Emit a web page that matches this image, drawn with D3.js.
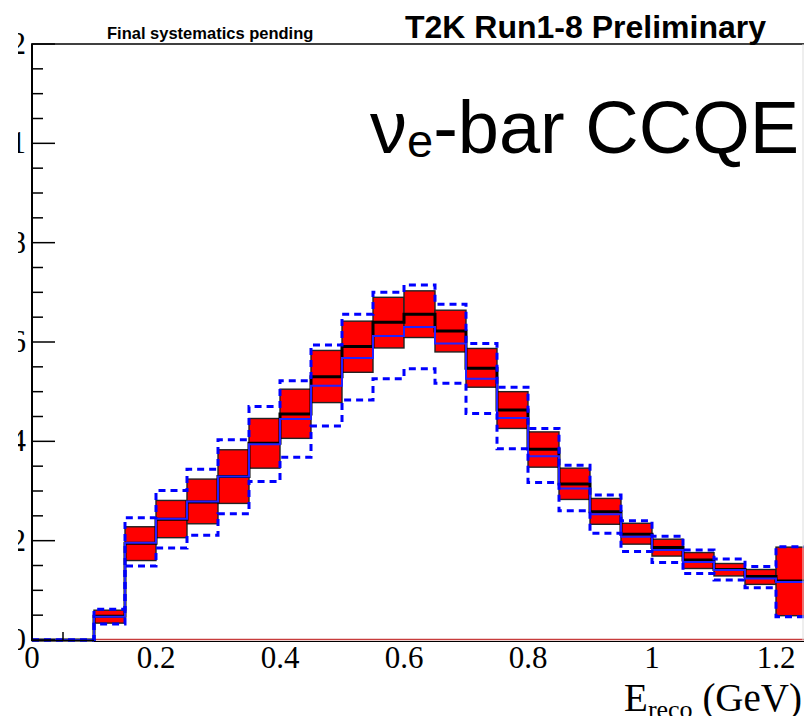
<!DOCTYPE html>
<html>
<head>
<meta charset="utf-8">
<script src="https://cdn.jsdelivr.net/npm/d3@7"></script>
<style>
  body { margin: 0; background: #fff; }
  svg { display: block; }
</style>
</head>
<body>
<svg id="chart" width="804" height="716"></svg>
<script>
// bin edges in GeV (first bin 0-0.1 is empty)
var edges = [0, 0.1, 0.15, 0.2, 0.25, 0.3, 0.35, 0.4, 0.45, 0.5, 0.55, 0.6, 0.65,
             0.7, 0.75, 0.8, 0.85, 0.9, 0.95, 1.0, 1.05, 1.1, 1.15, 1.2, 1.25];

// nominal prediction (black)
var nominal = [0, 0.0048, 0.0195, 0.0243, 0.0278, 0.0329, 0.0396, 0.0455, 0.0530, 0.0591,
               0.0640, 0.0656, 0.0622, 0.0547, 0.0463, 0.0384, 0.0314, 0.0258, 0.0213,
               0.0186, 0.0161, 0.0142, 0.0128, 0.0119];
// systematic band (red boxes)
var bandLow = [0, 0.0034, 0.0160, 0.0206, 0.0234, 0.0275, 0.0346, 0.0406, 0.0478, 0.0539,
               0.0588, 0.0609, 0.0580, 0.0509, 0.0426, 0.0348, 0.0283, 0.0233, 0.0193,
               0.0169, 0.0144, 0.0129, 0.0112, 0.0049];
var bandHigh = [0, 0.0060, 0.0228, 0.0281, 0.0324, 0.0383, 0.0446, 0.0505, 0.0583, 0.0642,
                0.0690, 0.0703, 0.0664, 0.0587, 0.0500, 0.0419, 0.0346, 0.0285, 0.0235,
                0.0203, 0.0176, 0.0154, 0.0142, 0.0187];
// alternative prediction (solid blue)
var altPred = [0, 0.0047, 0.0196, 0.0244, 0.0279, 0.0329, 0.0394, 0.0445, 0.0512, 0.0568,
               0.0612, 0.0630, 0.0597, 0.0526, 0.0447, 0.0370, 0.0305, 0.0253, 0.0208,
               0.0181, 0.0157, 0.0141, 0.0124, 0.0117];
// alternative band (dashed blue)
var altHigh = [0, 0.0062, 0.0246, 0.0301, 0.0344, 0.0403, 0.0470, 0.0522, 0.0594, 0.0656,
               0.0700, 0.0715, 0.0676, 0.0597, 0.0509, 0.0426, 0.0352, 0.0292, 0.0240,
               0.0209, 0.0181, 0.0163, 0.0148, 0.0188];
var altLow = [0, 0.0032, 0.0149, 0.0185, 0.0211, 0.0254, 0.0319, 0.0368, 0.0431, 0.0483,
              0.0526, 0.0546, 0.0517, 0.0456, 0.0385, 0.0317, 0.0260, 0.0215, 0.0178,
              0.0156, 0.0134, 0.0121, 0.0105, 0.0047];

var xTickVals = [0, 0.2, 0.4, 0.6, 0.8, 1.0, 1.2];
var xTickLabels = ["0", "0.2", "0.4", "0.6", "0.8", "1", "1.2"];
var xInnerTicks = [0.05];
var yTickVals = [0, 0.02, 0.04, 0.06, 0.08, 0.1, 0.12];
var yTickLabels = ["0", "0.02", "0.04", "0.06", "0.08", "0.1", "0.12"];
var yMinorTicks = d3.range(0, 0.1201, 0.005);

var svg = d3.select("#chart");
var x = d3.scaleLinear().domain([0, 1.25]).range([32, 807]);
var y = d3.scaleLinear().domain([0, 0.12]).range([640, 44]);

var sans = "'Liberation Sans', Arial, Helvetica, sans-serif";
var serif = "'Liberation Serif', 'Times New Roman', serif";

// red systematic boxes (skip the empty first bin)
var bins = d3.range(1, edges.length - 1);
svg.append("g").selectAll("rect")
    .data(bins)
  .enter().append("rect")
    .attr("x", function(i) { return x(edges[i]); })
    .attr("y", function(i) { return y(bandHigh[i]); })
    .attr("width", function(i) { return x(edges[i + 1]) - x(edges[i]); })
    .attr("height", function(i) { return y(bandLow[i]) - y(bandHigh[i]); })
    .attr("fill", "#ff0000")
    .attr("stroke", "#222")
    .attr("stroke-width", 1.4);

function stepPath(vals) {
  var pts = vals.map(function(v, i) { return [x(edges[i]), y(v)]; });
  pts.push([x(edges[vals.length]), y(vals[vals.length - 1])]);
  return d3.line().curve(d3.curveStepAfter)(pts);
}

// red zero line
svg.append("line")
    .attr("x1", x(0.1)).attr("x2", 804)
    .attr("y1", y(0) - 0.5).attr("y2", y(0) - 0.5)
    .attr("stroke", "#c83c3c").attr("stroke-width", 1.5);

svg.append("path").attr("d", stepPath(nominal))
    .attr("fill", "none").attr("stroke", "#000").attr("stroke-width", 3);
svg.append("path").attr("d", stepPath(altPred))
    .attr("fill", "none").attr("stroke", "#2222ff").attr("stroke-width", 2);
[altHigh, altLow].forEach(function(s) {
  svg.append("path").attr("d", stepPath(s))
      .attr("fill", "none").attr("stroke", "#0000ff")
      .attr("stroke-width", 3).attr("stroke-dasharray", "7,5");
});

// frame
svg.append("line").attr("x1", 32).attr("x2", 32).attr("y1", 44).attr("y2", 641)
    .attr("stroke", "#000").attr("stroke-width", 2);
svg.append("line").attr("x1", 31).attr("x2", 804).attr("y1", 44).attr("y2", 44)
    .attr("stroke", "#000").attr("stroke-width", 1.5);
svg.append("line").attr("x1", 31).attr("x2", x(0.1)).attr("y1", 640.5).attr("y2", 640.5)
    .attr("stroke", "#000").attr("stroke-width", 1.5);
svg.append("line").attr("x1", x(0.1)).attr("x2", 804).attr("y1", 641.5).attr("y2", 641.5)
    .attr("stroke", "#000").attr("stroke-width", 1);
svg.append("line").attr("x1", 803).attr("x2", 803).attr("y1", 44).attr("y2", 640)
    .attr("stroke", "#ddd").attr("stroke-width", 1);

// y ticks
svg.append("g").selectAll("line")
    .data(yMinorTicks)
  .enter().append("line")
    .attr("x1", 32)
    .attr("x2", function(d, i) { return i % 4 === 0 ? 55 : 43; })
    .attr("y1", function(d) { return y(d); })
    .attr("y2", function(d) { return y(d); })
    .attr("stroke", "#000").attr("stroke-width", 1.5);

// x inner ticks
svg.append("g").selectAll("line")
    .data(xInnerTicks)
  .enter().append("line")
    .attr("x1", function(d) { return x(d); })
    .attr("x2", function(d) { return x(d); })
    .attr("y1", 640).attr("y2", 632)
    .attr("stroke", "#000").attr("stroke-width", 1.5);

// y labels (cut off on the left)
svg.append("clipPath").attr("id", "ylab")
  .append("rect").attr("x", 18).attr("y", 0).attr("width", 14).attr("height", 716);
svg.append("g").attr("clip-path", "url(#ylab)").selectAll("text")
    .data(yTickVals)
  .enter().append("text")
    .attr("x", 26)
    .attr("y", function(d) { return y(d) + 10; })
    .attr("text-anchor", "end")
    .attr("font-family", serif).attr("font-size", 31)
    .text(function(d, i) { return yTickLabels[i]; });

// x labels
svg.append("g").selectAll("text")
    .data(xTickVals)
  .enter().append("text")
    .attr("x", function(d) { return x(d); })
    .attr("y", 668)
    .attr("text-anchor", "middle")
    .attr("font-family", serif).attr("font-size", 31)
    .text(function(d, i) { return xTickLabels[i]; });

// x title
var xt = svg.append("text")
    .attr("x", 802).attr("y", 711)
    .attr("text-anchor", "end")
    .attr("font-family", serif).attr("font-size", 39);
xt.append("tspan").text("E");
xt.append("tspan").attr("font-size", 26).attr("dy", 7).text("reco");
xt.append("tspan").attr("dy", -7).text(" (GeV)");

// header texts
svg.append("text").attr("x", 107).attr("y", 38.5)
    .attr("font-family", sans).attr("font-weight", "bold").attr("font-size", 16.5)
    .text("Final systematics pending");
svg.append("text").attr("x", 405).attr("y", 37.5)
    .attr("font-family", sans).attr("font-weight", "bold").attr("font-size", 32)
    .text("T2K Run1-8 Preliminary");

var lab = svg.append("text").attr("x", 370).attr("y", 153)
    .attr("font-family", sans).attr("font-size", 74);
lab.append("tspan").text("ν");
lab.append("tspan").attr("font-size", 47).attr("dy", 4).text("e");
lab.append("tspan").attr("dy", -4).text("-bar CCQE");
</script>
</body>
</html>
